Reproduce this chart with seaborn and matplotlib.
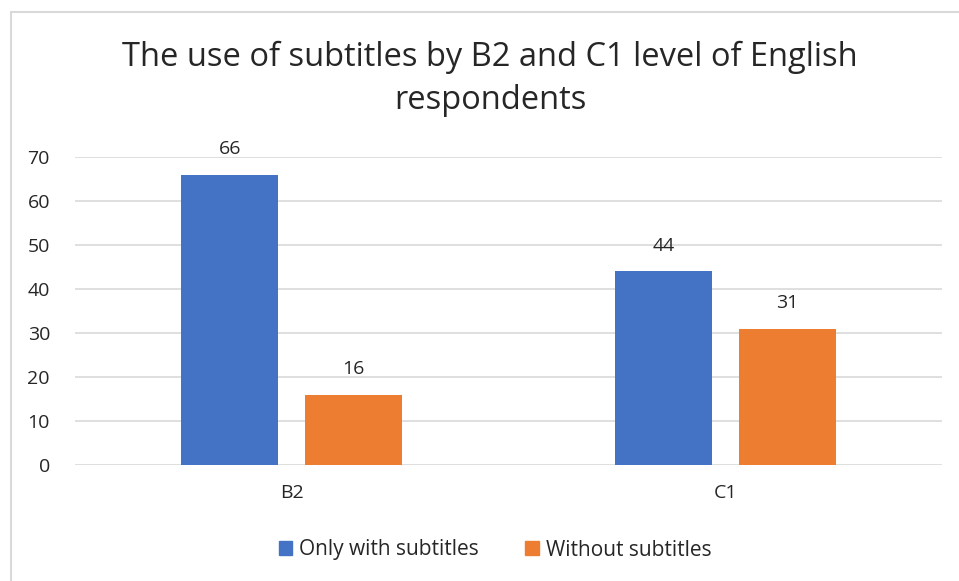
import matplotlib.pyplot as plt
from matplotlib.lines import Line2D
import seaborn as sns
import pandas as pd

# chart data
levels = ['B2', 'C1']
series = ['Only with subtitles', 'Without subtitles']
only_with = [66, 44]
without = [16, 31]

colors = {'Only with subtitles': '#4472C4', 'Without subtitles': '#ED7D31'}

df = pd.DataFrame({
    'Level': levels * 2,
    'Series': [series[0]] * 2 + [series[1]] * 2,
    'Value': only_with + without,
})

sns.set_style('white')
plt.rcParams['font.family'] = ['Open Sans', 'DejaVu Sans']

fig = plt.figure(figsize=(9.59, 5.81), dpi=100)
ax = fig.add_axes([75 / 959, 1 - 465 / 581, 867 / 959, 308 / 581])

sns.barplot(data=df, x='Level', y='Value', hue='Series', order=levels,
            hue_order=series, palette=colors, width=0.572, gap=0.22,
            saturation=1, linewidth=0, ax=ax, legend=False)

for cont in ax.containers:
    ax.bar_label(cont, padding=12, fontsize=14, color='#262626')

ax.set_ylim(0, 70)
ax.set_xlim(-0.5, 1.5)
ax.set_yticks(range(0, 71, 10))
ax.yaxis.grid(True, color='#d9d9d9', linewidth=1.2)
ax.set_axisbelow(True)
for s in ax.spines.values():
    s.set_visible(False)
ax.tick_params(axis='y', length=0, pad=18, labelsize=14, labelcolor='#262626')
ax.tick_params(axis='x', length=0, pad=14, labelsize=14, labelcolor='#262626')
ax.set_xlabel('')
ax.set_ylabel('')

fig.text(490 / 959, 1 - 79 / 581, 'The use of subtitles by B2 and C1 level of English\nrespondents',
         ha='center', va='center', fontsize=23.5, color='#262626', linespacing=1.4)

handles = [plt.Rectangle((0, 0), 1, 1, color=colors[s]) for s in series]
fig.legend(handles, series, loc='center', bbox_to_anchor=(495 / 959, 1 - 550 / 581),
           ncol=2, frameon=False, fontsize=15, handlelength=0.65, handleheight=0.65,
           columnspacing=2.2, handletextpad=0.35, labelcolor='#262626')

# chart frame (only top and left edges are visible in the crop)
fig.add_artist(Line2D([11 / 959, 11 / 959], [0, 1 - 12 / 581], transform=fig.transFigure,
                      color='#d9d9d9', linewidth=1.5))
fig.add_artist(Line2D([11 / 959, 1], [1 - 12 / 581, 1 - 12 / 581], transform=fig.transFigure,
                      color='#d9d9d9', linewidth=1.5))

fig.savefig('out.png', dpi=100)
